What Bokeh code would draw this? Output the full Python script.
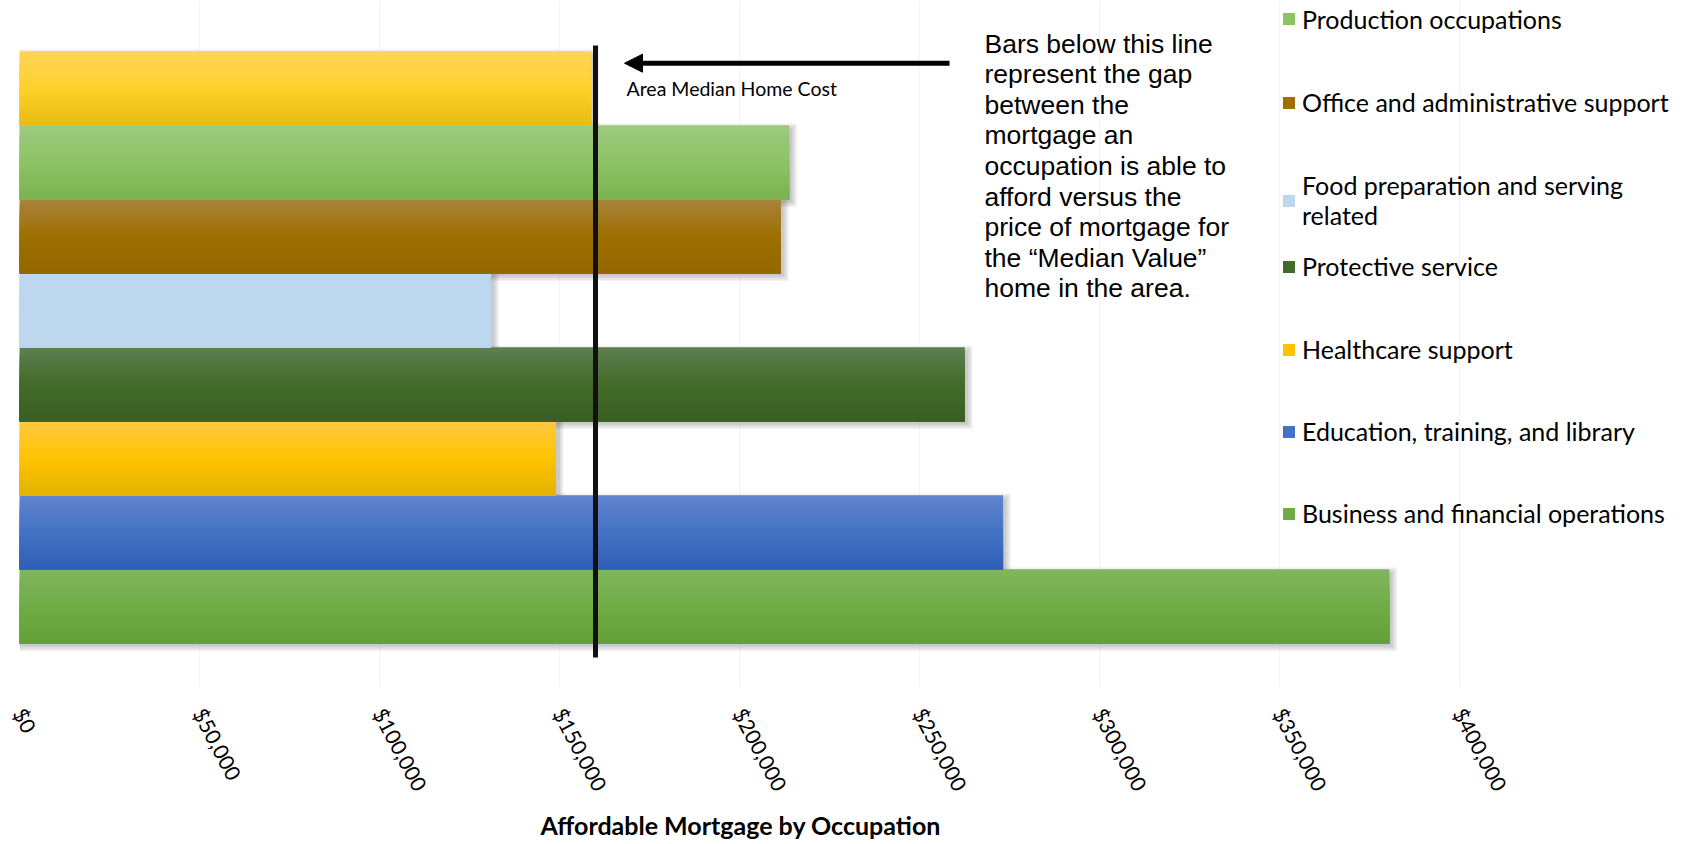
import math
from bokeh.plotting import figure
from bokeh.models import (ColumnDataSource, Range1d, FixedTicker, NumeralTickFormatter,
                          Legend, LegendItem, Label, Arrow, NormalHead)
from bokeh.embed import file_html
from bokeh.resources import INLINE

# ---------------- data (bottom bar first, as drawn) ----------------
occupations = [
    "Business and financial operations",
    "Education, training, and library",
    "Healthcare support",
    "Protective service",
    "Food preparation and serving related",
    "Office and administrative support",
    "Production occupations",
    "Unlabeled series (legend entry cropped)",
]
affordable_mortgage = [380500, 273200, 149000, 262600, 131000, 211500, 213800, 158800]
tick_values = [0, 50000, 100000, 150000, 200000, 250000, 300000, 350000, 400000]
median_home_cost = 160000
axis_title = "Affordable Mortgage by Occupation"

# legend text as displayed (None = no visible legend entry)
legend_text = [
    "Business and financial operations",
    "Education, training, and library",
    "Healthcare support",
    "Protective service",
    "Food preparation and serving\nrelated",
    "Office and administrative support",
    "Production occupations",
    None,
]

note_lines = [
    "Bars below this line",
    "represent the gap",
    "between the",
    "mortgage an",
    "occupation is able to",
    "afford versus the",
    "price of mortgage for",
    "the \u201cMedian Value\u201d",
    "home in the area.",
]

# ---------------- styles ----------------
# gradient stops (top, middle, bottom) per bar
gradients = [
    ("#80B560", "#70AD47", "#62A036"),
    ("#6185CD", "#4472C4", "#2F5EB6"),
    ("#FFC843", "#FFC400", "#E3B300"),
    ("#607F52", "#426B28", "#395F22"),
    ("#BDD7EE", "#BDD7EE", "#BDD7EE"),
    ("#A8843E", "#9E7000", "#946800"),
    ("#9DCA80", "#8DC466", "#7AB250"),
    ("#FFD45A", "#FDD22A", "#E8BC12"),
]
FONT = "Lato"
N_STRIPS = 20
LEFT = 19
FRAME_W, FRAME_H = 1684 - LEFT, 687
PX_X = 400000 / 1440            # dollars per pixel ($400k tick sits 1440 px from $0)
X_MAX = FRAME_W * PX_X
PX_Y = 1 / 74.0                 # category units per pixel
Y0 = -0.5 - 44.3 * PX_Y
Y1 = Y0 + FRAME_H * PX_Y


def h2rgb(h):
    h = h.lstrip("#")
    return [int(h[i:i + 2], 16) for i in (0, 2, 4)]


def mix(a, b, t):
    ra, rb = h2rgb(a), h2rgb(b)
    return "#%02x%02x%02x" % tuple(int(round(ra[k] + (rb[k] - ra[k]) * t)) for k in range(3))


def grad_color(stops, t):
    top, mid, bot = stops
    if t < 0.5:
        return mix(top, mid, t / 0.5)
    return mix(mid, bot, (t - 0.5) / 0.5)


p = figure(frame_width=FRAME_W, frame_height=FRAME_H,
           x_range=Range1d(0, X_MAX), y_range=Range1d(Y0, Y1),
           title=axis_title, title_location="below",
           output_backend="svg", toolbar_location=None, y_axis_location=None,
           min_border_left=LEFT, min_border_right=0, min_border_top=0, min_border_bottom=157,
           background_fill_color="white", border_fill_color="white", outline_line_color=None)

ys = list(range(len(occupations)))

# soft shadows
for k in range(4):
    grow = 1.6 * k
    src = ColumnDataSource(dict(
        y=[i - 3 * PX_Y for i in ys],
        right=[v + (3 + grow) * PX_X for v in affordable_mortgage]))
    p.hbar(y="y", left=0, right="right", height=1 + 2 * grow * PX_Y, source=src,
           fill_color="black", fill_alpha=0.055, line_color=None)

# gradient bars built as stacked strips
strip_renderers = []
for j in range(N_STRIPS):
    frac = j / N_STRIPS
    t = (j + 0.5) / N_STRIPS
    src = ColumnDataSource(dict(
        y=[i - frac / 2 for i in ys],
        right=affordable_mortgage,
        color=[grad_color(g, t) for g in gradients],
        occupation=occupations))
    r = p.hbar(y="y", left=0, right="right", height=1 - frac, source=src,
               fill_color="color", line_color=None)
    strip_renderers.append(r)
legend_renderer = strip_renderers[N_STRIPS // 2]

# median home cost line
p.segment(x0=[median_home_cost], x1=[median_home_cost],
          y0=[-0.5 - 14.3 * PX_Y], y1=[7.5 + 5.7 * PX_Y],
          line_color="#111111", line_width=5)

# screen helpers (y measured from the top of the canvas)
def sy(y_top):
    return FRAME_H - y_top


# arrow + labels
p.add_layout(Arrow(end=NormalHead(size=18, fill_color="black", line_color="black"),
                   x_start=949 - LEFT, y_start=sy(62.7), x_end=624 - LEFT, y_end=sy(62.7),
                   start_units="screen", end_units="screen",
                   line_color="black", line_width=5))
p.add_layout(Label(x=626 - LEFT, y=sy(87.5), x_units="screen", y_units="screen",
                   text="Area Median Home Cost", text_font=FONT, text_font_size="19.5px",
                   text_color="#000000", text_baseline="middle", text_align="left"))
for i, line in enumerate(note_lines):
    p.add_layout(Label(x=984 - LEFT, y=sy(43 + i * 30.6), x_units="screen", y_units="screen",
                       text=line, text_font="Liberation Sans", text_font_size="26.5px",
                       text_color="#000000", text_baseline="middle", text_align="left"))

# axis
ax = p.xaxis[0]
ax.ticker = FixedTicker(ticks=tick_values)
ax.formatter = NumeralTickFormatter(format="$0,0")
ax.major_label_orientation = -math.radians(62)
ax.major_label_text_font = FONT
ax.major_label_text_font_size = "21px"
ax.major_label_text_color = "#000000"
ax.major_label_standoff = 22
ax.axis_line_color = None
ax.major_tick_line_color = None
ax.minor_tick_line_color = None
ax.major_tick_out = 0
ax.major_tick_in = 0
p.xgrid.grid_line_color = "#F4F4F4"
p.ygrid.visible = False

# axis title (centred under the $0-$400k span, as in the original)
p.title.align = "left"
p.title.offset = 521
p.title.text_font = FONT
p.title.text_font_style = "bold"
p.title.text_font_size = "25px"
p.title.text_color = "#000000"
p.title.standoff = 9

# legend: one block per entry so the spacing matches the original
legend_centers = {6: 18.5, 5: 102, 4: 200, 3: 266, 2: 349, 1: 431, 0: 513}
for idx, cy in legend_centers.items():
    two = "\n" in legend_text[idx]
    lh = 74 if two else 34
    leg = Legend(items=[LegendItem(label=legend_text[idx], renderers=[legend_renderer], index=idx)],
                 location=(1262, FRAME_H - cy - lh / 2), orientation="vertical",
                 glyph_width=15, glyph_height=15, label_standoff=6,
                 label_height=lh, label_text_font=FONT, label_text_font_size="25px",
                 label_text_color="#000000", label_text_line_height=1.37,
                 padding=0, margin=0, spacing=0,
                 border_line_color=None, background_fill_alpha=0)
    p.add_layout(leg)

open("out.html", "w").write(file_html(p, INLINE))
